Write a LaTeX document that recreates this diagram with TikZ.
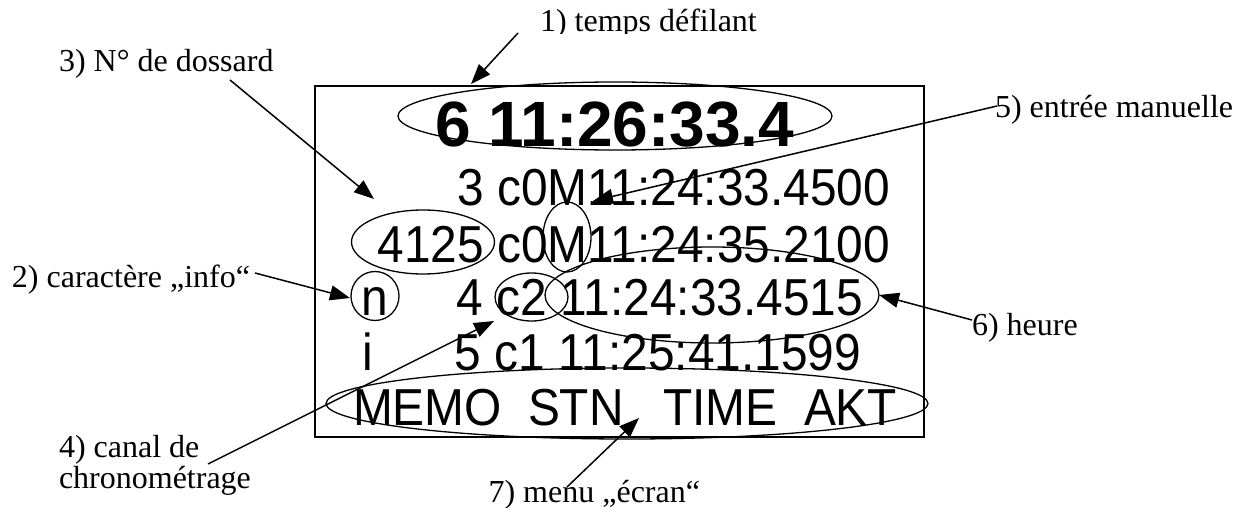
\documentclass[tikz,border=0pt]{standalone}
\usepackage{fontspec}
\setmainfont{Liberation Serif}
\newfontfamily\lcd[FakeStretch=0.92]{Liberation Sans}
\newfontfamily\lcdbold{Liberation Sans}
\usetikzlibrary{arrows.meta,shapes.geometric}
\begin{document}
\begin{tikzpicture}[x=1pt,y=-1pt,
  lab/.style={inner sep=0pt,outer sep=0pt,font=\fontsize{32}{31}\selectfont},
  row/.style={inner sep=0pt,outer sep=0pt,font=\lcd\fontsize{52}{55}\selectfont},
  big/.style={inner sep=0pt,outer sep=0pt,font=\lcdbold\bfseries\fontsize{64}{70}\selectfont},
  ring/.style={draw,ellipse,inner sep=0pt,outer sep=0pt,line width=1.3pt},
  arr/.style={line width=1.5pt,-{Triangle[length=20pt,width=15pt]}},
]
\useasboundingbox (0,0) rectangle (1243,508);
% screen frame
\node[draw,line width=2pt,inner sep=0pt,outer sep=0pt,minimum width=609pt,minimum height=351pt,anchor=north west] (screen) at (315,86) {};
% display text
\node[big,anchor=base west] (top) at (435,147) {6 11:26:33.4};
\node[row,anchor=base east] (r1) at (890,205) {3 c0M11:24:33.4500};
\node[row,anchor=base east] (r2) at (890,262) {4125 c0M11:24:35.2100};
\node[row,anchor=base] (rn) at (375,315) {n};
\node[row,anchor=base east] (r3) at (863,315) {4 c2 11:24:33.4515};
\node[row,anchor=base] (ri) at (368,370) {i};
\node[row,anchor=base east] (r4) at (861,370) {5 c1 11:25:41.1599};
\node[row,anchor=base west] (m1) at (353,425) {MEMO};
\node[row,anchor=base west] (m2) at (528,425) {STN};
\node[row,anchor=base west] (m3) at (663,425) {TIME};
\node[row,anchor=base west] (m4) at (804,425) {AKT};
% highlight ellipses
\node[ring,minimum width=434pt,minimum height=68pt] (etop) at (615,116) {};
\node[ring,minimum width=143pt,minimum height=64pt] (edos) at (423,242) {};
\node[ring,minimum width=48pt,minimum height=70pt] (eM) at (567,237) {};
\node[ring,minimum width=334pt,minimum height=96pt] (eheure) at (712,295) {};
\node[ring,minimum width=48pt,minimum height=49pt] (en) at (375,296) {};
\node[ring,minimum width=73pt,minimum height=48pt] (ec) at (531.5,297) {};
\node[ring,minimum width=602pt,minimum height=71pt] (emenu) at (627,403.5) {};
% labels
\begin{scope}
\clip (0,0) rectangle (1243,33.5);
\node[lab,anchor=base west] (l1) at (540,32) {1) temps défilant};
\end{scope}
\node[lab,anchor=base west] (l3) at (59,72) {3) N° de dossard};
\node[lab,anchor=base west] (l5) at (995,118) {5) entrée manuelle};
\node[lab,anchor=base west] (l2) at (12,287) {2) caractère „info“};
\node[lab,anchor=base west] (l6) at (972,335) {6) heure};
\node[lab,anchor=base west] (l4) at (59,457) {\begin{tabular}[t]{@{}l@{}}4) canal de\\chronométrage\end{tabular}};
\node[lab,anchor=base east] (l7) at (700,502) {7) menu „écran“};
% arrow end points
\coordinate (s1) at (518,33);  \coordinate (t1) at (471,84);
\coordinate (s2) at (255,273); \coordinate (t2) at (350,298);
\coordinate (s3) at (230,80);  \coordinate (t3) at (374,199);
\coordinate (s4) at (208,464); \coordinate (t4) at (494,321);
\coordinate (s5) at (997,106); \coordinate (t5) at (593,201);
\coordinate (s6) at (972,320); \coordinate (t6) at (879,295);
\coordinate (s7) at (567,487); \coordinate (t7) at (639,418);
\draw[arr] (s1) -- (t1);
\draw[arr] (s2) -- (t2);
\draw[arr] (s3) -- (t3);
\draw[arr] (s4) -- (t4);
\draw[arr] (s5) -- (t5);
\draw[arr] (s6) -- (t6);
\draw[arr] (s7) -- (t7);
\end{tikzpicture}
\end{document}
